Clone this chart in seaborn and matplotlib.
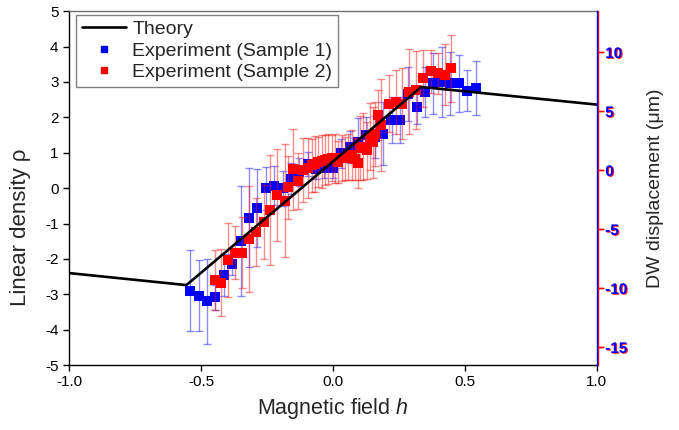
import matplotlib
matplotlib.use("Agg")
import matplotlib.pyplot as plt
import matplotlib.patheffects as pe
from matplotlib.lines import Line2D
import seaborn as sns

# theory curve (piecewise)
theory_h = [-1.0, -0.555, 0.335, 1.0]
theory_rho = [-2.40, -2.74, 2.86, 2.36]

# sample 1 (blue)
blue_h = [-0.540, -0.508, -0.476, -0.445, -0.413, -0.381, -0.350, -0.318, -0.286,
          -0.254, -0.222, -0.190, -0.159, -0.127, -0.095, -0.063, -0.032, 0.000,
          0.032, 0.064, 0.095, 0.127, 0.159, 0.191, 0.222, 0.254, 0.286, 0.318,
          0.350, 0.381, 0.413, 0.445, 0.477, 0.509, 0.541]
blue_rho = [-2.90, -3.04, -3.20, -3.08, -2.45, -2.15, -1.49, -0.84, -0.57,
            -0.01, 0.07, -0.01, 0.27, 0.45, 0.68, 0.55, 0.58, 0.58,
            0.98, 1.17, 1.31, 1.50, 1.45, 1.54, 1.92, 1.92, 2.66, 2.30,
            2.71, 2.96, 3.00, 2.96, 2.96, 2.75, 2.83]
blue_err = [1.15, 1.0, 1.2, 0.35, 0.6, 0.3, 1.55, 1.4, 1.1,
            0.6, 0.55, 0.5, 0.45, 0.4, 0.35, 0.3, 0.3, 0.3,
            0.4, 0.45, 0.68, 0.5, 0.6, 0.9, 0.65, 0.65, 0.75, 0.5,
            0.7, 0.86, 1.0, 0.9, 0.8, 0.58, 0.77]

# sample 2 (red)
red_h = [-0.448, -0.423, -0.398, -0.372, -0.345, -0.318, -0.290, -0.262, -0.237,
         -0.211, -0.182, -0.170, -0.151, -0.131, -0.112, -0.095, -0.081, -0.068,
         -0.056, -0.043, -0.030, -0.017, -0.005, 0.008, 0.020, 0.033, 0.045,
         0.058, 0.071, 0.084, 0.096, 0.102, 0.114, 0.128, 0.140, 0.150, 0.159,
         0.172, 0.184, 0.212, 0.238, 0.263, 0.290, 0.316, 0.342, 0.371, 0.400,
         0.424, 0.449]
red_rho = [-2.60, -2.67, -2.03, -1.83, -1.83, -1.44, -1.24, -0.95, -0.62,
           -0.20, -0.35, 0.02, 0.53, 0.20, 0.51, 0.58, 0.65, 0.68,
           0.74, 0.76, 0.79, 0.82, 0.84, 0.84, 0.74, 0.84, 0.84,
           0.88, 0.93, 0.82, 0.70, 1.14, 1.17, 1.07, 1.45, 1.30, 1.52,
           2.06, 1.78, 2.39, 2.44, 2.39, 2.72, 2.77, 3.10, 3.30, 3.25,
           3.21, 3.39]
red_err = [0.85, 0.95, 1.05, 0.75, 1.0, 1.5, 0.95, 1.05, 1.55,
           1.3, 1.6, 0.9, 1.15, 0.8, 0.9, 0.85, 0.75, 0.8,
           0.7, 0.75, 0.7, 0.7, 0.65, 0.7, 0.6, 0.65, 0.6,
           0.65, 0.7, 0.6, 0.7, 0.9, 0.95, 0.8, 0.95, 1.0, 0.9,
           0.7, 1.3, 0.8, 0.9, 1.0, 1.2, 1.1, 0.8, 0.6, 0.58,
           0.85, 0.95]

x_ticks = [-1.0, -0.5, 0.0, 0.5, 1.0]
rho_ticks = [-5, -4, -3, -2, -1, 0, 1, 2, 3, 4, 5]
dw_ticks = [-15, -10, -5, 0, 5, 10]

sns.set_style("ticks")
plt.rcParams['font.family'] = ['Liberation Sans', 'DejaVu Sans']
plt.rcParams['mathtext.fontset'] = 'custom'
plt.rcParams['mathtext.it'] = 'Liberation Sans:italic'
plt.rcParams['mathtext.rm'] = 'Liberation Sans'
plt.rcParams['axes.unicode_minus'] = False

fig, ax = plt.subplots(figsize=(6.79, 4.30), dpi=100)
fig.subplots_adjust(left=0.1016, right=0.879, bottom=0.151, top=0.974)

# error bars + markers
ax.errorbar(blue_h, blue_rho, yerr=blue_err, fmt='none', ecolor=(0, 0, 1, 0.45),
            elinewidth=1, capsize=3, capthick=1, zorder=2)
sns.scatterplot(x=blue_h, y=blue_rho, marker='s', s=52, color='#0000ff',
                edgecolor='none', linewidth=0, ax=ax, zorder=3)
ax.errorbar(red_h, red_rho, yerr=red_err, fmt='none', ecolor=(1, 0, 0, 0.45),
            elinewidth=1, capsize=3, capthick=1, zorder=4)
sns.scatterplot(x=red_h, y=red_rho, marker='s', s=52, color='#ff0000',
                edgecolor='none', linewidth=0, ax=ax, zorder=5)
sns.lineplot(x=theory_h, y=theory_rho, color='black', linewidth=1.9, ax=ax,
             zorder=6, sort=False)

ax.set_xlim(-1.0, 1.0)
ax.set_ylim(-5, 5)
ax.set_xticks(x_ticks)
ax.set_xticklabels([f"{v:.1f}" for v in x_ticks])
ax.set_yticks(rho_ticks)
ax.tick_params(axis='both', direction='out', length=4, width=1, labelsize=11,
               colors='black')
ax.set_xlabel("Magnetic field $h$", fontsize=15.5, labelpad=5)
ax.set_ylabel("Linear density ρ", fontsize=16)
ax.yaxis.set_label_coords(-0.072, 0.39)
for s in ['left', 'bottom']:
    ax.spines[s].set_linewidth(1)
    ax.spines[s].set_color('black')
ax.spines['top'].set_color('#707070')
ax.spines['top'].set_linewidth(1)
ax.spines['right'].set_visible(False)

handles = [
    Line2D([], [], color='black', lw=1.9),
    Line2D([], [], color='#0000ff', marker='s', ls='none', markersize=4.5),
    Line2D([], [], color='#ff0000', marker='s', ls='none', markersize=4.5),
]
labels = ["Theory", "Experiment (Sample 1)", "Experiment (Sample 2)"]
leg = ax.legend(handles, labels, loc='upper left', bbox_to_anchor=(0.013, 0.99),
                fontsize=14, frameon=True, fancybox=False, framealpha=1,
                edgecolor='#808080', borderpad=0.3, handlelength=2.3,
                handletextpad=0.3, labelspacing=0.2, borderaxespad=0)
leg.get_frame().set_linewidth(1)
leg.set_zorder(10)

# right axes: red and blue overlaid
ax_red = ax.twinx()
ax_blue = ax.twinx()
for tw, col, off in [(ax_red, 'red', 1.0), (ax_blue, 'blue', 0.0)]:
    tw.set_ylim(-16.5, 13.5)
    tw.set_yticks(dw_ticks)
    for s in ['left', 'top', 'bottom']:
        tw.spines[s].set_visible(False)
    tw.spines['right'].set_color(col)
    tw.spines['right'].set_linewidth(1)
    tw.spines['right'].set_position(('outward', off))
    tw.tick_params(axis='y', direction='out', length=4, width=1, labelsize=11,
                   color='red', labelcolor=col, pad=2)
ax_red.tick_params(axis='y', labelright=False)
for lab in ax_blue.get_yticklabels():
    lab.set_fontweight('bold')
    lab.set_path_effects([pe.SimplePatchShadow(offset=(0.8, -0.6),
                                               shadow_rgbFace='red', alpha=0.9),
                          pe.Normal()])
ax_blue.set_ylabel("DW displacement (μm)", fontsize=14, labelpad=14)

fig.savefig("out.png", dpi=100)
